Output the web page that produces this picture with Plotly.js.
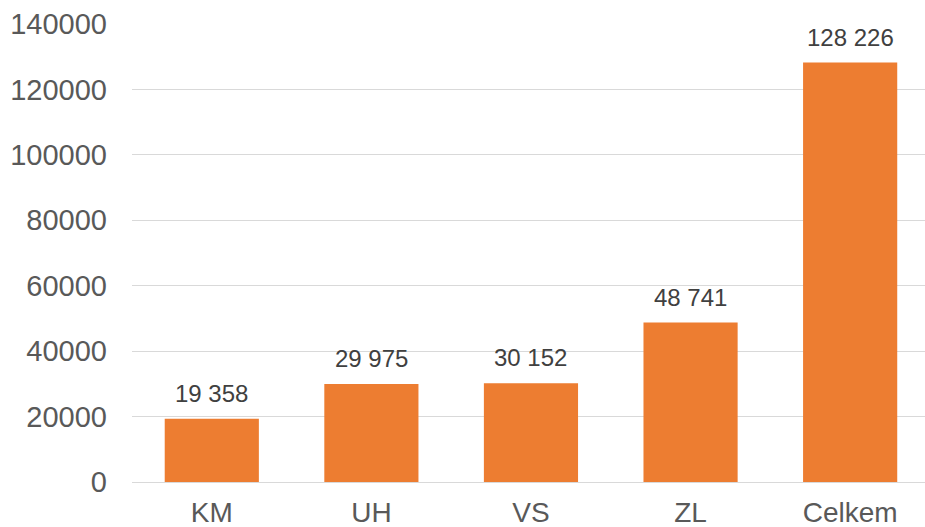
<!DOCTYPE html>
<html>
<head>
<meta charset="utf-8">
<script src="https://cdn.plot.ly/plotly-3.0.1.min.js"></script>
<style>html,body{margin:0;padding:0;background:#fff;}#chart{width:925px;height:527px;}</style>
</head>
<body>
<div id="chart"></div>
<script>
const categories = ["KM", "UH", "VS", "ZL", "Celkem"];
const values = [19358, 29975, 30152, 48741, 128226];
const yTicks = [0, 20000, 40000, 60000, 80000, 100000, 120000, 140000];

const fmt = v => String(v).replace(/\B(?=(\d{3})+(?!\d))/g, " ");

const trace = {
  type: "bar",
  x: categories,
  y: values,
  marker: {color: "#ED7D31"},
  hoverinfo: "skip"
};

const annotations = categories.map((c, i) => ({
  x: c, y: values[i], xref: "x", yref: "y",
  text: fmt(values[i]), showarrow: false,
  yanchor: "bottom", yshift: 10,
  font: {family: "Liberation Sans, Arial, sans-serif", size: 24, color: "#404040"}
}));

const layout = {
  width: 925, height: 527,
  margin: {l: 132, r: 0, t: 24, b: 45},
  paper_bgcolor: "#ffffff", plot_bgcolor: "#ffffff",
  showlegend: false,
  bargap: 0.41,
  font: {family: "Liberation Sans, Arial, sans-serif", color: "#595959"},
  xaxis: {
    type: "category",
    range: [-0.5, 4.469],
    showgrid: false, showline: false, zeroline: false,
    ticks: "",
    tickfont: {size: 28, color: "#595959"},
    ticklabelstandoff: 11
  },
  yaxis: {
    range: [0, 140000],
    tickvals: yTicks,
    ticktext: yTicks.map(String),
    showgrid: true, gridcolor: "#D9D9D9", gridwidth: 1,
    zeroline: true, zerolinecolor: "#D9D9D9", zerolinewidth: 1,
    showline: false, ticks: "",
    tickfont: {size: 29, color: "#595959"},
    ticklabelstandoff: 24
  },
  annotations: annotations
};

Plotly.newPlot("chart", [trace], layout, {displayModeBar: false, staticPlot: true});
</script>
</body>
</html>
